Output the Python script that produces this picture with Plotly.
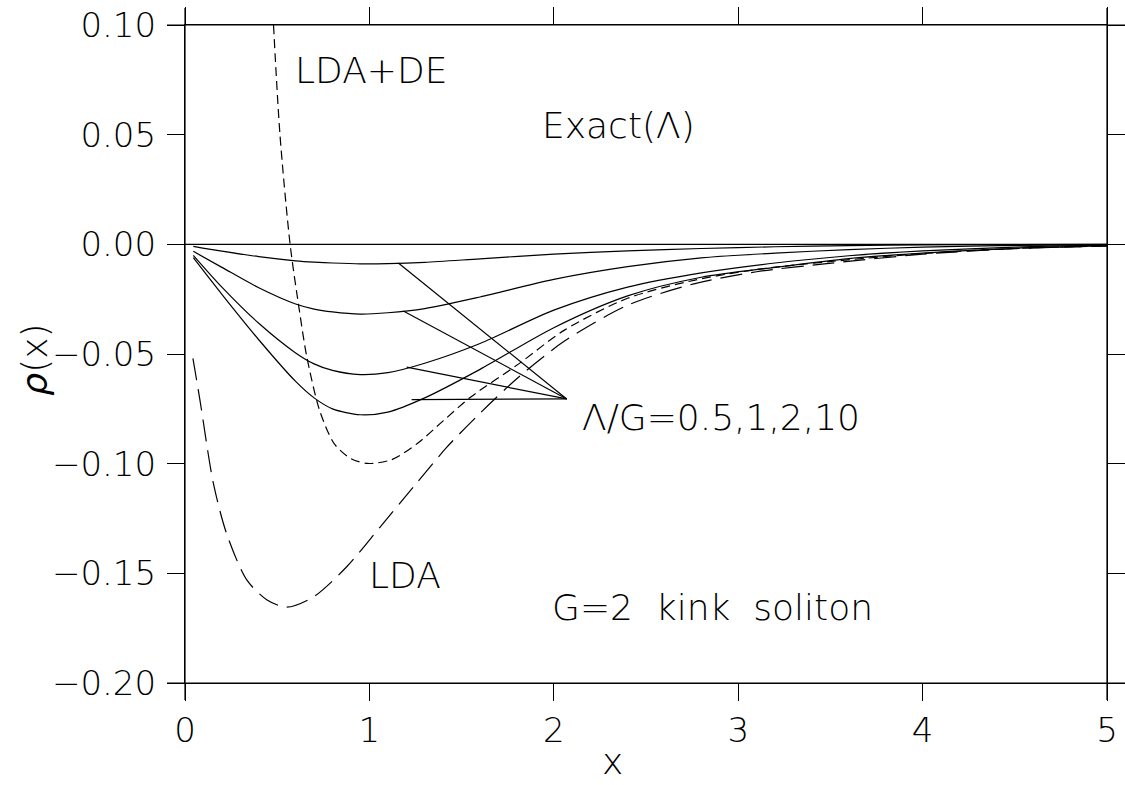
import plotly.graph_objects as go

# ---- data ----
x_exact = [0.045, 0.2, 0.4, 0.6, 0.7, 0.8, 0.95, 1.1, 1.3, 1.6, 2.0, 2.4, 2.8, 3.2, 3.6, 4.0, 4.5, 5.0]
exact_05 = [-0.0009, -0.0031, -0.0056, -0.0075, -0.0081, -0.0085, -0.0089, -0.0088, -0.0082, -0.0066,
            -0.0045, -0.0030, -0.0019, -0.0011, -0.0006, -0.0003, -0.0001, 0.0]
exact_1 = [-0.0032, -0.0105, -0.0198, -0.0272, -0.0295, -0.0308, -0.0318, -0.0312, -0.0293, -0.0240,
           -0.0160, -0.0102, -0.0062, -0.0040, -0.0024, -0.0013, -0.0005, -0.0001]
exact_2 = [-0.0050, -0.0195, -0.0360, -0.0495, -0.0545, -0.0575, -0.0594, -0.0585, -0.0542, -0.0452,
           -0.0300, -0.0195, -0.0130, -0.0085, -0.0052, -0.0030, -0.0013, -0.0004]
exact_10 = [-0.0061, -0.0228, -0.0435, -0.0625, -0.0700, -0.0750, -0.0777, -0.0765, -0.0700, -0.0570,
            -0.0380, -0.0235, -0.0150, -0.0105, -0.0065, -0.0040, -0.0018, -0.0007]

x_de = [0.48, 0.515, 0.57, 0.62, 0.66, 0.73, 0.81, 0.90, 0.99, 1.12, 1.26, 1.40, 1.55, 1.81, 2.06,
        2.40, 2.76, 3.10, 3.48, 4.0, 4.5, 5.0]
lda_de = [0.100, 0.050, 0.000, -0.030, -0.051, -0.0757, -0.0910, -0.0977, -0.0999, -0.0982, -0.0908,
          -0.0805, -0.0696, -0.0545, -0.0390, -0.0246, -0.0164, -0.0115, -0.0080, -0.0042, -0.0019, -0.0007]

x_lda = [0.043, 0.081, 0.154, 0.226, 0.335, 0.443, 0.55, 0.696, 0.877, 1.057, 1.24, 1.42, 1.60, 1.81,
         2.06, 2.40, 2.76, 3.10, 3.48, 4.0, 4.5, 5.0]
lda = [-0.052, -0.071, -0.109, -0.132, -0.153, -0.162, -0.1654, -0.1608, -0.147, -0.129, -0.1105,
       -0.0925, -0.0770, -0.0605, -0.0440, -0.0278, -0.0180, -0.0125, -0.0088, -0.0045, -0.0020, -0.0008]

zero_x = [0.0, 5.0]
zero_y = [0.0, 0.0]

label_anchor = [2.07, -0.0705]
pointer_x = [1.157, 1.184, 1.202, 1.229]
pointer_y = [-0.0085, -0.0304, -0.056, -0.0708]

x_ticks = [0, 1, 2, 3, 4, 5]
y_ticks = [-0.20, -0.15, -0.10, -0.05, 0.00, 0.05, 0.10]

FONT = "DejaVu Sans"
TXT = dict(family=FONT, size=36, color="black", weight=200)

fig = go.Figure()
lw = 1.2
fig.add_trace(go.Scatter(x=zero_x, y=zero_y, mode="lines", line=dict(color="black", width=lw)))
for ys in (exact_05, exact_1, exact_2, exact_10):
    fig.add_trace(go.Scatter(x=x_exact, y=ys, mode="lines",
                             line=dict(color="black", width=lw, shape="spline", smoothing=0.8)))
fig.add_trace(go.Scatter(x=x_de, y=lda_de, mode="lines",
                         line=dict(color="black", width=lw, dash="9px,5px", shape="spline", smoothing=0.8)))
fig.add_trace(go.Scatter(x=x_lda, y=lda, mode="lines",
                         line=dict(color="black", width=lw, dash="22px,9px", shape="spline", smoothing=0.8)))
for px_, py_ in zip(pointer_x, pointer_y):
    fig.add_trace(go.Scatter(x=[px_, label_anchor[0]], y=[py_, label_anchor[1]], mode="lines",
                             line=dict(color="black", width=lw)))

axis_common = dict(showgrid=False, zeroline=False, showline=True, linecolor="black", linewidth=1.2,
                   ticks="outside", ticklen=17, tickwidth=1.2, tickcolor="black", mirror="ticks",
                   automargin=False,
                   tickfont=dict(family=FONT, size=34, color="black", weight=200))
fig.update_xaxes(range=[0, 5], tickvals=x_ticks, ticktext=[str(v) for v in x_ticks], **axis_common)
fig.update_yaxes(range=[-0.2, 0.1], tickvals=y_ticks, tickformat=".2f", ticklabelstandoff=4, **axis_common)

# extended frame lines beyond the corners
ex = 18 / 922
ey = 17 / 658
for xv in (0, 1):
    fig.add_shape(type="line", xref="paper", yref="paper", x0=xv, x1=xv, y0=-ey, y1=1 + ey,
                  line=dict(color="black", width=1.2))
for yv in (0, 1):
    fig.add_shape(type="line", xref="paper", yref="paper", x0=-ex, x1=1 + ex, y0=yv, y1=yv,
                  line=dict(color="black", width=1.2))

def note(text, x, y, xanchor="left", xref="x", yref="y", angle=0):
    fig.add_annotation(text=text, x=x, y=y, xref=xref, yref=yref, xanchor=xanchor, yanchor="middle",
                       showarrow=False, font=TXT, textangle=angle)

note("LDA+DE", 0.586, 0.0793)
note("Exact(Λ)", 1.925, 0.0543)
note("Λ/G=0.5,1,2,10", 2.142, -0.0789)
note("LDA", 0.987, -0.151)
note("G=2  kink  soliton", 1.98, -0.1655)
note("x", 0.464, -0.12, xanchor="center", xref="paper", yref="paper")
note("<i>ρ</i>(x)", -0.163, 0.491, xanchor="center", xref="paper", yref="paper", angle=-90)

fig.update_layout(width=1125, height=785, showlegend=False,
                  margin=dict(l=185, r=18, t=25, b=102, autoexpand=False),
                  plot_bgcolor="white", paper_bgcolor="white")
fig.write_html("out.html")
